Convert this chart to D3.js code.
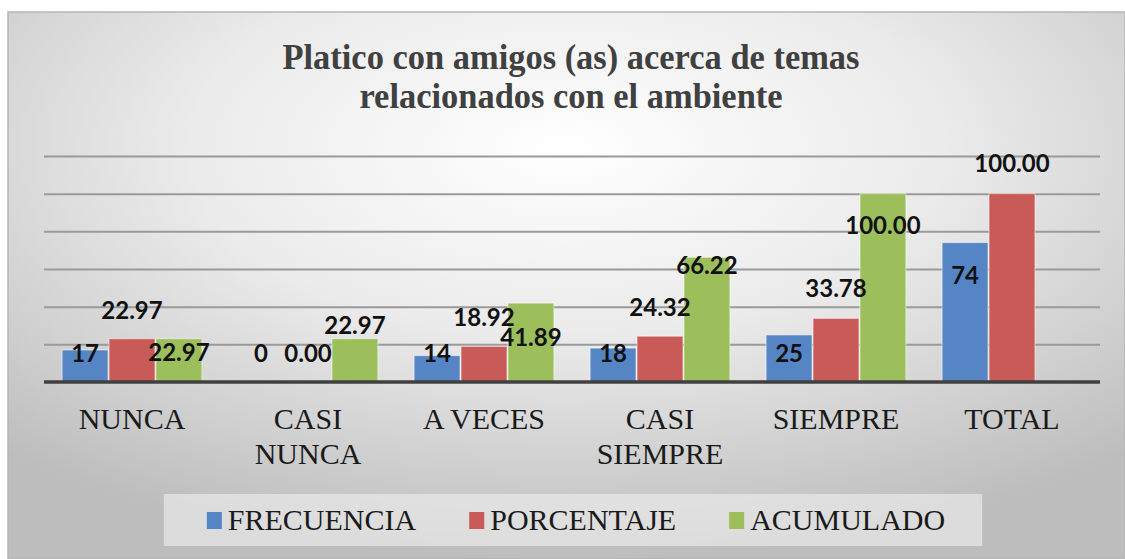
<!DOCTYPE html>
<html>
<head>
<meta charset="utf-8">
<script src="https://cdn.jsdelivr.net/npm/d3@7"></script>
<style>
  html, body { margin: 0; padding: 0; background: #fff; }
  svg { display: block; }
</style>
</head>
<body>
<div class="chart"></div>
<script>
/* data */
const categories = ["NUNCA", "CASI NUNCA", "A VECES", "CASI SIEMPRE", "SIEMPRE", "TOTAL"];
const seriesNames = ["FRECUENCIA", "PORCENTAJE", "ACUMULADO"];
const frecuencia = [17, 0, 14, 18, 25, 74];
const porcentaje = [22.97, 0.00, 18.92, 24.32, 33.78, 100.00];
const acumulado = [22.97, 22.97, 41.89, 66.22, 100.00, null];
const labelFormats = [d3.format("d"), d3.format(".2f"), d3.format(".2f")];
const yTicks = [0, 20, 40, 60, 80, 100, 120];

/* where each data label sits, in value units of the y axis (labels were hand-placed) */
const labelAt = [
  [15.4, 15.4, 15.4, 15.4, 15.4, 56.8],
  [38.2, 15.4, 34.5, 39.8, 49.9, 116.3],
  [15.9, 30.3, 23.9, 62.1, 83.4, null]
];

const seriesValues = [frecuencia, porcentaje, acumulado];
const colors = ["#5585c4", "#c85a58", "#9cbf5c"];
const SERIF = '"Liberation Serif", "Times New Roman", serif';

/* dimensions */
const W = 1125, H = 559;
const plot = {left: 44, right: 1100, top: 156, bottom: 382};

const svg = d3.select(".chart").append("svg")
  .attr("width", W)
  .attr("height", H);

/* background: radial gray gradient like the office chart area */
const defs = svg.append("defs");
const grad = defs.append("radialGradient")
  .attr("id", "bg")
  .attr("cx", "50%").attr("cy", "25%").attr("r", "75%");
grad.append("stop").attr("offset", "0%").attr("stop-color", "#ffffff");
grad.append("stop").attr("offset", "45%").attr("stop-color", "#ebebeb");
grad.append("stop").attr("offset", "100%").attr("stop-color", "#bdbdbd");

svg.append("rect")
  .attr("x", 8).attr("y", 12)
  .attr("width", W - 8).attr("height", H - 12)
  .attr("fill", "url(#bg)")
  .attr("stroke", "#b5b5b5")
  .attr("stroke-width", 1.5);

/* title */
const titleLines = ["Platico con amigos (as) acerca de temas", "relacionados con el ambiente"];
const title = svg.append("g")
  .attr("transform", "translate(571,0) scale(0.957,1)");
title.selectAll("text")
  .data(titleLines)
  .join("text")
  .attr("x", 0)
  .attr("y", (d, i) => 69 + i * 39)
  .attr("text-anchor", "middle")
  .style("font-family", SERIF)
  .style("font-weight", "bold")
  .style("font-size", "36px")
  .attr("fill", "#404040")
  .text(d => d);

/* scales */
const x0 = d3.scaleBand()
  .domain(categories)
  .range([plot.left, plot.right])
  .paddingInner(0.2)
  .paddingOuter(0.1);

const x1 = d3.scaleBand()
  .domain(d3.range(seriesNames.length))
  .range([0, x0.bandwidth()]);

const y = d3.scaleLinear()
  .domain([0, 120])
  .range([plot.bottom, plot.top]);

/* gridlines */
const grid = svg.append("g")
  .attr("transform", `translate(${plot.left},0)`)
  .call(d3.axisLeft(y).tickValues(yTicks.slice(1)).tickSize(-(plot.right - plot.left)).tickFormat(""));
grid.select(".domain").remove();
grid.selectAll(".tick line")
  .attr("stroke", "#9a9a9a")
  .attr("stroke-width", 2);

/* bars */
const rows = categories.map((c, i) => seriesNames.map((s, k) => ({cat: c, k: k, i: i, v: seriesValues[k][i]})));

const groups = svg.append("g").selectAll("g")
  .data(rows)
  .join("g")
  .attr("transform", (d, i) => `translate(${x0(categories[i])},0)`);

groups.selectAll("rect")
  .data(d => d.filter(e => e.v !== null))
  .join("rect")
  .attr("x", d => x1(d.k) + 0.5)
  .attr("y", d => y(d.v))
  .attr("width", x1.bandwidth() - 1)
  .attr("height", d => y(0) - y(d.v))
  .attr("fill", d => colors[d.k])
  .attr("stroke", "rgba(255,255,255,0.55)")
  .attr("stroke-width", 1);

/* x axis (dark baseline + category labels) */
const xAxis = svg.append("g")
  .attr("transform", `translate(0,${plot.bottom})`)
  .call(d3.axisBottom(x0).tickSize(0).tickPadding(0));
xAxis.select(".domain")
  .attr("stroke", "#404040")
  .attr("stroke-width", 3.5)
  .attr("d", `M${plot.left},0H${plot.right}`);
xAxis.selectAll(".tick text")
  .style("font-family", SERIF)
  .style("font-size", "30px")
  .attr("fill", "#1a1a1a")
  .attr("dy", null)
  .attr("y", 47)
  .call(wrap, x0.bandwidth());

function wrap(texts, width) {
  texts.each(function() {
    const t = d3.select(this);
    if (this.getComputedTextLength() <= width) return;
    const words = t.text().split(" ");
    t.text(null);
    words.forEach((w, j) => {
      t.append("tspan")
        .attr("x", 0)
        .attr("y", 47 + j * 35)
        .text(w);
    });
  });
}

/* data labels */
groups.selectAll("text.lbl")
  .data(d => d.filter(e => e.v !== null))
  .join("text")
  .attr("class", "lbl")
  .attr("x", d => x1(d.k) + x1.bandwidth() / 2)
  .attr("y", d => y(labelAt[d.k][d.i]))
  .attr("dy", "0.36em")
  .attr("text-anchor", "middle")
  .style("font-family", "Lato, 'Liberation Sans', sans-serif")
  .style("font-weight", "bold")
  .style("font-size", "24px")
  .attr("fill", "#111")
  .text(d => labelFormats[d.k](d.v));

/* legend */
const legend = svg.append("g");
const legendBox = legend.append("rect")
  .attr("y", 494)
  .attr("height", 52)
  .attr("fill", "rgba(240,240,240,0.6)");

const items = legend.selectAll("g")
  .data(seriesNames)
  .join("g");
items.append("rect")
  .attr("y", 512)
  .attr("width", 15)
  .attr("height", 17)
  .attr("fill", (d, i) => colors[i]);
items.append("text")
  .attr("x", 21)
  .attr("y", 530)
  .style("font-family", SERIF)
  .style("font-size", "30px")
  .attr("fill", "#1a1a1a")
  .text(d => d);

let cursor = 0;
const offsets = [];
items.each(function(d, i) {
  offsets.push(cursor);
  const tw = d3.select(this).select("text").node().getComputedTextLength();
  cursor += 21 + tw + (i < seriesNames.length - 1 ? 53 : 0);
});
const legendStart = 576 - cursor / 2;
items.attr("transform", (d, i) => `translate(${legendStart + offsets[i]},0)`);
items.select("rect").attr("x", 0);
legendBox
  .attr("x", legendStart - 43)
  .attr("width", cursor + 80);
</script>
</body>
</html>
